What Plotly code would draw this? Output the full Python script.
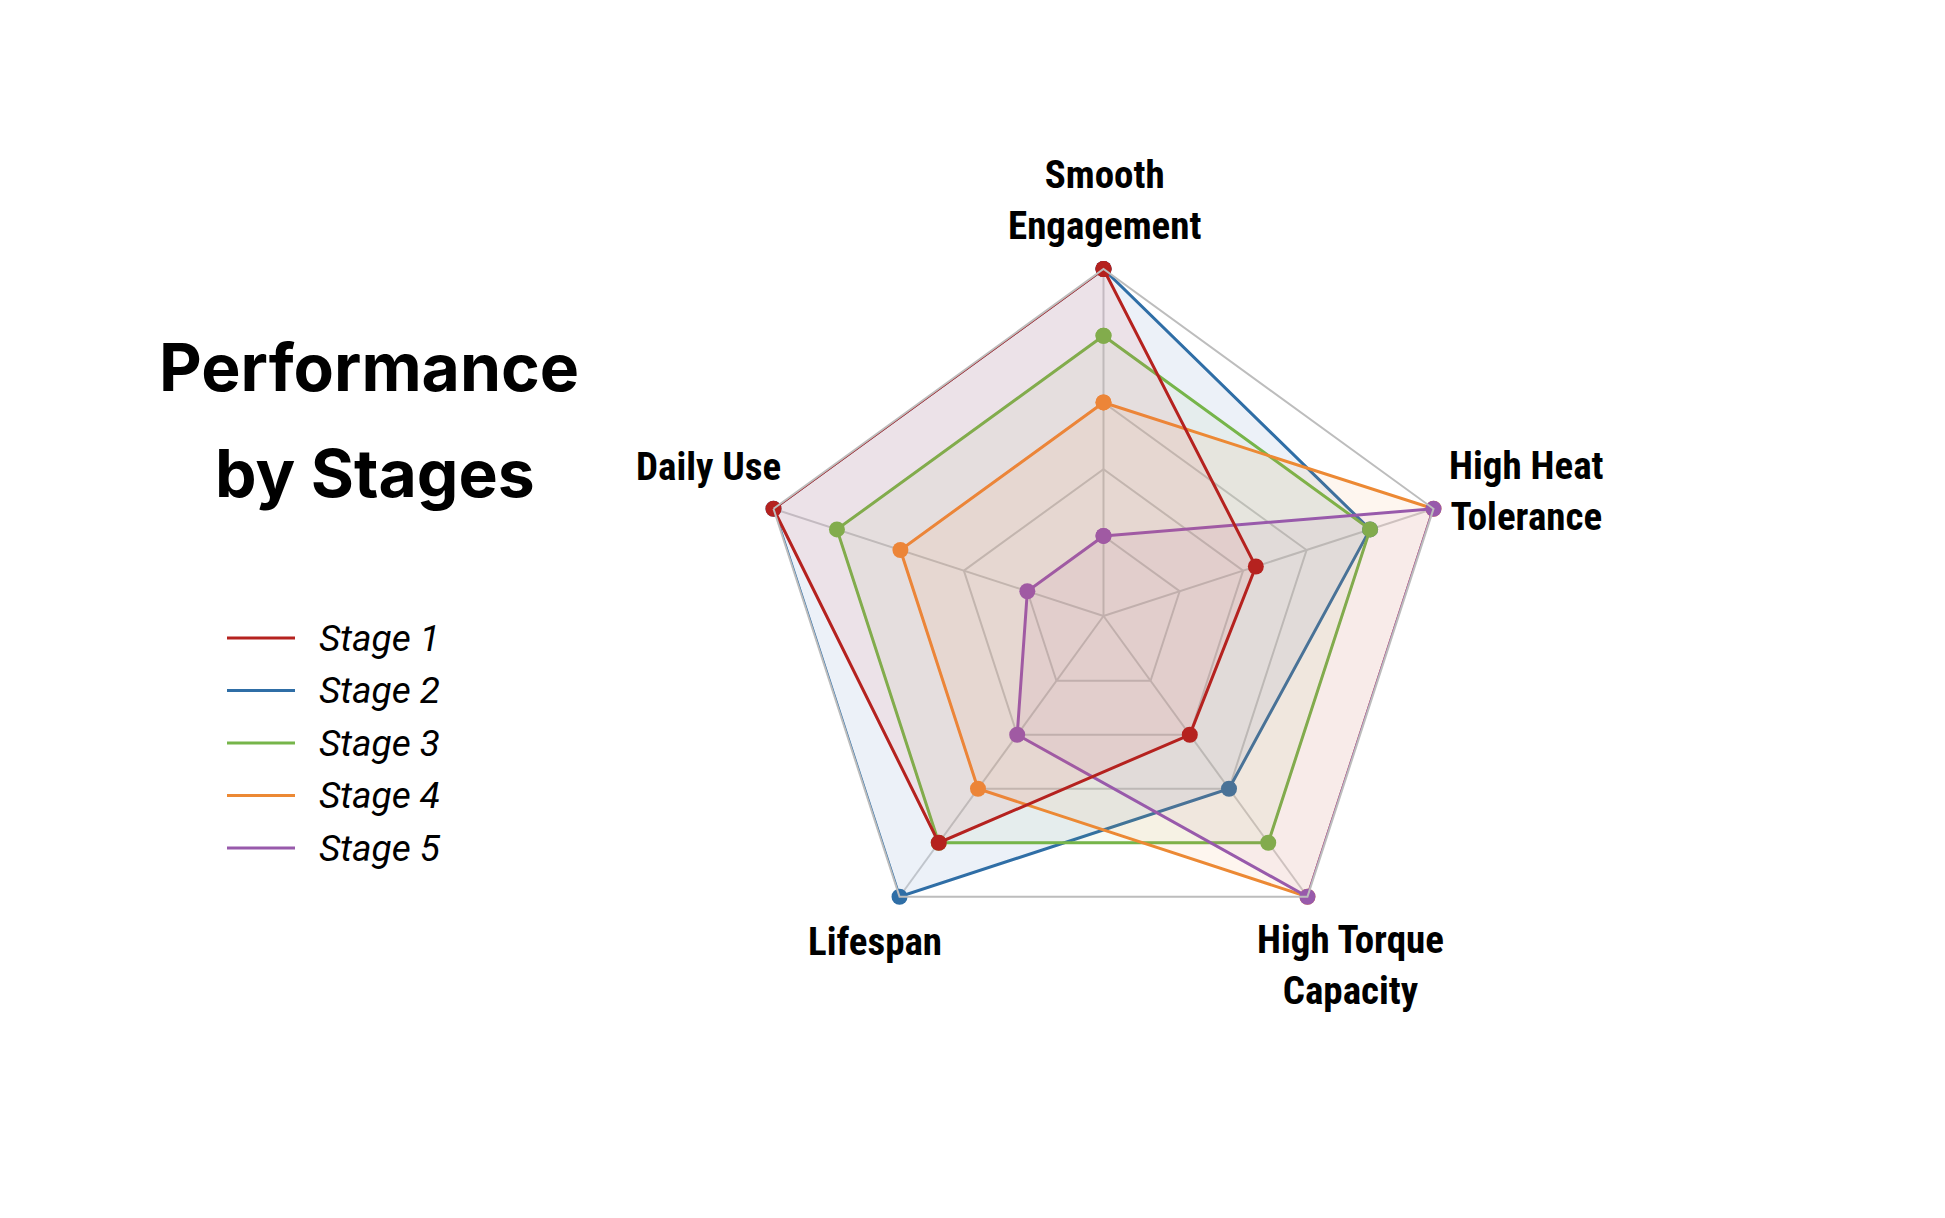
import plotly.graph_objects as go

# radar categories (clockwise from top)
categories = ["Smooth Engagement", "High Heat Tolerance", "High Torque Capacity",
              "Lifespan", "Daily Use"]
label_text = ["Smooth<br>Engagement", "High Heat<br>Tolerance", "High Torque<br>Capacity",
              "Lifespan", "Daily Use"]

stage1 = [5, 2.2, 2, 4, 5]
stage2 = [5, 4, 3, 5, 5]
stage3 = [4, 4, 4, 4, 4]
stage4 = [3, 5, 5, 3, 3]
stage5 = [1, 5, 5, 2, 1]

stage_names = ["Stage 1", "Stage 2", "Stage 3", "Stage 4", "Stage 5"]
colors = ["#b5221f", "#2f6ea6", "#76b54a", "#ec8934", "#985aab"]
fills = ["rgba(240,95,95,0.10)", "rgba(70,120,190,0.10)", "rgba(118,181,74,0.06)",
         "rgba(236,137,52,0.08)", "rgba(175,100,150,0.07)"]

W, H = 1945, 1218

fig = go.Figure()

series = [stage1, stage2, stage3, stage4, stage5]
draw_order = [1, 2, 3, 4, 0]
for i in draw_order:
    vals = series[i]
    fig.add_trace(go.Scatterpolar(
        r=vals + vals[:1],
        theta=categories + categories[:1],
        name=stage_names[i],
        mode="lines+markers",
        line=dict(color=colors[i], width=3),
        marker=dict(color=colors[i], size=16),
        fill="toself",
        fillcolor=fills[i],
        showlegend=False,
    ))

# polar area placement (pixels -> paper)
cx, cy, R = 1095.5, 608, 347
fig.update_layout(
    width=W, height=H,
    margin=dict(l=0, r=0, t=0, b=0),
    paper_bgcolor="white",
    plot_bgcolor="white",
    polar=dict(
        domain=dict(x=[(cx - R) / W, (cx + R) / W],
                    y=[1 - (cy + R) / H, 1 - (cy - R) / H]),
        gridshape="linear",
        bgcolor="rgba(0,0,0,0)",
        radialaxis=dict(
            range=[-0.2, 5], tickvals=[1, 2, 3, 4, 5], showticklabels=False,
            ticks="", showline=False, gridcolor="#cfcfcf", gridwidth=1.5,
        ),
        angularaxis=dict(
            rotation=90, direction="clockwise", ticks="", showticklabels=False,
            linecolor="#bdbdbd", linewidth=2, gridcolor="#cfcfcf", gridwidth=1.5,
        ),
    ),
)

# category labels, centred around each vertex
label_font = dict(family="Roboto Condensed, Liberation Sans Narrow, DejaVu Sans Condensed",
                  size=39, color="black", weight="bold")
label_pos = [(1096, 193), (1518, 484), (1342, 957), (867, 934), (700, 459)]
for txt, (lx, ly) in zip(label_text, label_pos):
    fig.add_annotation(text=txt, x=lx / W, y=1 - ly / H, xref="paper", yref="paper",
                       showarrow=False, xanchor="center", yanchor="middle",
                       align="center", font=label_font)

# title on the left
title_font = dict(family="Inter, Roboto, sans-serif", size=66, color="black", weight="bold")
fig.add_annotation(text="Performance", x=361 / W, y=1 - 359 / H, xref="paper", yref="paper",
                   showarrow=False, xanchor="center", yanchor="middle", font=title_font)
fig.add_annotation(text="by Stages", x=367 / W, y=1 - 465 / H, xref="paper", yref="paper",
                   showarrow=False, xanchor="center", yanchor="middle", font=title_font)

# hand-drawn legend
leg_y0, leg_step = 630, 52.5
for k, name in enumerate(stage_names):
    yy = 1 - (leg_y0 + k * leg_step) / H
    fig.add_shape(type="line", xref="paper", yref="paper",
                  x0=219 / W, x1=287 / W, y0=yy, y1=yy,
                  line=dict(color=colors[k], width=3))
    fig.add_annotation(text=name, x=309 / W, y=yy, xref="paper", yref="paper",
                       showarrow=False, xanchor="left", yanchor="middle",
                       font=dict(family="Roboto, sans-serif", size=37, color="black",
                                 style="italic"))

fig.write_html("out.html")
